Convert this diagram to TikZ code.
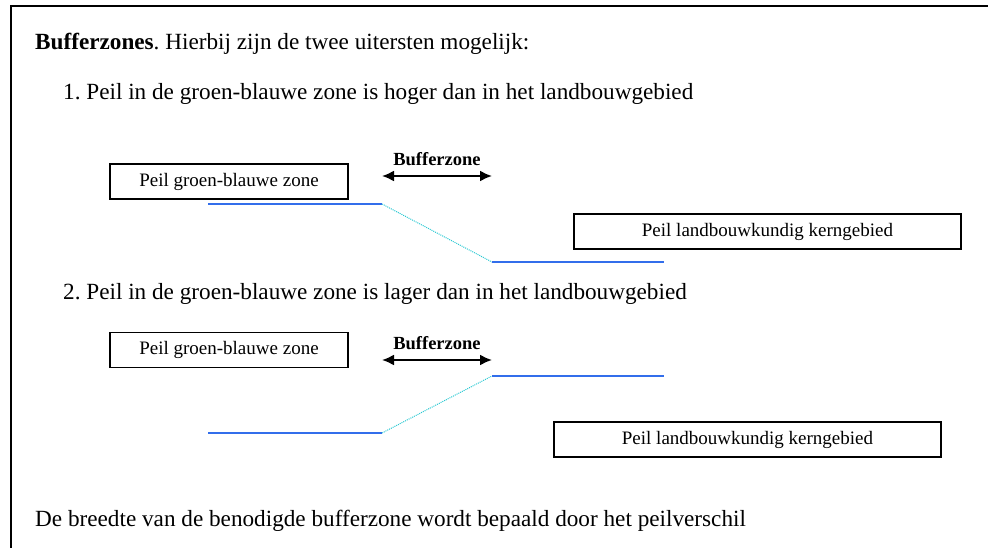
\documentclass[tikz,border=0pt]{standalone}
\usepackage{fontspec}
\setmainfont{Liberation Serif}
\usepackage{xcolor}
\usetikzlibrary{arrows.meta, positioning}
\frenchspacing

\definecolor{peilblue}{RGB}{50,110,235}
\definecolor{slopecyan}{RGB}{40,200,210}

\begin{document}
\begin{tikzpicture}[
    x=1pt, y=-1pt,
    box/.style={rectangle, draw=black, line width=1.4pt, minimum height=35pt, inner sep=0pt, font=\fontsize{19}{22}\selectfont},
    maintext/.style={anchor=base west, inner sep=0pt, font=\fontsize{23.2}{27}\selectfont},
    peil/.style={draw=peilblue, line width=1.3pt},
    slope/.style={draw=slopecyan, line width=1pt, densely dotted},
    bufarrow/.style={{Latex[length=12pt,width=11pt]}-{Latex[length=12pt,width=11pt]}, line width=2pt},
    buflabel/.style={font=\bfseries\fontsize{18.5}{22}\selectfont, inner sep=0pt}
]
    \useasboundingbox (0,0) rectangle (988,548);
    \clip (0,0) rectangle (988,548);

    % Frame
    \draw[line width=1.5pt] (11,1000) -- (11,6) -- (1000,6);

    % Heading and case 1
    \node[maintext] (title) at (35,50) {\textbf{Bufferzones}. Hierbij zijn de twee uitersten mogelijk:};
    \node[maintext] (case1) at (63,100) {1. Peil in de groen-blauwe zone is hoger dan in het landbouwgebied};

    \node[box, minimum width=238pt] (gbzone1) at (229,181.5) {Peil groen-blauwe zone};
    \node[box, minimum width=387pt] (landbouw1) at (767.5,231.5) {Peil landbouwkundig kerngebied};

    \coordinate (buf1l) at (382,176);
    \coordinate (buf1r) at (492,176);
    \draw[bufarrow] (buf1l) -- (buf1r) node[midway, buflabel, above=9pt] (buf1) {Bufferzone};

    \coordinate (hoog1a) at (208,204);
    \coordinate (hoog1b) at (382,204);
    \coordinate (laag1a) at (492,262);
    \coordinate (laag1b) at (664,262);
    \draw[peil] (hoog1a) -- (hoog1b);
    \draw[slope] (hoog1b) -- (laag1a);
    \draw[peil] (laag1a) -- (laag1b);

    % Case 2
    \node[maintext] (case2) at (63,299) {2. Peil in de groen-blauwe zone is lager dan in het landbouwgebied};

    \node[box, minimum width=238pt] (gbzone2) at (229,350) {Peil groen-blauwe zone};
    \node[box, minimum width=387pt] (landbouw2) at (747.5,439.5) {Peil landbouwkundig kerngebied};

    \coordinate (buf2l) at (382,360);
    \coordinate (buf2r) at (492,360);
    \draw[bufarrow] (buf2l) -- (buf2r) node[midway, buflabel, above=9pt] (buf2) {Bufferzone};

    \coordinate (laag2a) at (208,433);
    \coordinate (laag2b) at (382,433);
    \coordinate (hoog2a) at (492,376);
    \coordinate (hoog2b) at (664,376);
    \draw[peil] (laag2a) -- (laag2b);
    \draw[slope] (laag2b) -- (hoog2a);
    \draw[peil] (hoog2a) -- (hoog2b);

    % Conclusion
    \node[maintext] (concl) at (35,526) {De breedte van de benodigde bufferzone wordt bepaald door het peilverschil};
\end{tikzpicture}
\end{document}
